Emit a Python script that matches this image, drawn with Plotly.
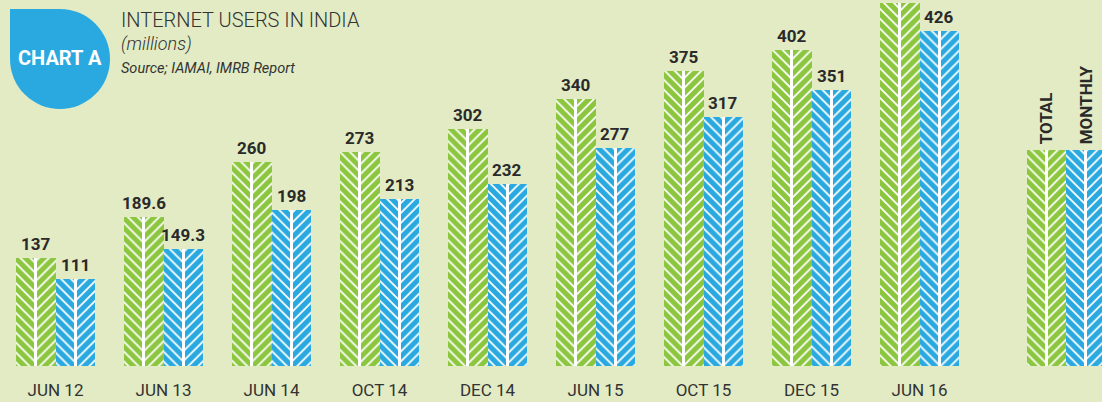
import plotly.graph_objects as go

# ---- data ----
categories = ["JUN 12", "JUN 13", "JUN 14", "OCT 14", "DEC 14", "JUN 15", "OCT 15", "DEC 15", "JUN 16"]
total_users = [137, 189.6, 260, 273, 302, 340, 375, 402, 462]
monthly_users = [111, 149.3, 198, 213, 232, 277, 317, 351, 426]
total_labels = ["137", "189.6", "260", "273", "302", "340", "375", "402", "462"]
monthly_labels = ["111", "149.3", "198", "213", "232", "277", "317", "351", "426"]
legend_names = ["TOTAL", "MONTHLY"]
legend_value = [275]

# ---- style ----
W, H = 1102, 402
BOTTOM = 36
PLOT_H = H - BOTTOM
GREEN = "#8cc63f"
BLUE = "#29a9e0"
BG = "#e2ebc4"
DARK = "#2a2a2a"
UNIT = 108.0           # px per category
X0_PX = 55.5           # px of category 0 center (boundary green/blue)
HALF = 19.75 / UNIT    # half-bar width in data units
LINE_W = 2.6 / UNIT
Y_MAX = 466

x_range = [-X0_PX / UNIT, (W - X0_PX) / UNIT]
legend_x = [(1066 - X0_PX) / UNIT]


def px(x):
    return x / W


def py(y):
    return (PLOT_H - y) / PLOT_H


fig = go.Figure()


def add_bar(x, y, color, start):
    # left half (\), right half (/), white spine
    for k, shape in enumerate(["\\", "/"]):
        fig.add_trace(go.Bar(
            x=x, y=y, offset=start + k * HALF, width=HALF,
            marker=dict(color=color, line=dict(width=0),
                        pattern=dict(shape=shape, fgcolor="white", bgcolor=color,
                                     size=7, solidity=0.25, fillmode="replace")),
            hoverinfo="skip", showlegend=False))
    fig.add_trace(go.Bar(
        x=x, y=y, offset=start + HALF - LINE_W / 2, width=LINE_W,
        marker=dict(color="white", line=dict(width=0)),
        hoverinfo="skip", showlegend=False))


idx = list(range(len(categories)))
add_bar(idx, total_users, GREEN, -2 * HALF)
add_bar(idx, monthly_users, BLUE, 0)
add_bar(legend_x, legend_value, GREEN, -2 * HALF)
add_bar(legend_x, legend_value, BLUE, 0)

annotations = []
for i in idx:
    annotations.append(dict(x=i - HALF, y=total_users[i], xref="x", yref="y",
                            text=total_labels[i], showarrow=False, yanchor="bottom",
                            yshift=2, font=dict(family="Roboto", size=17, color=DARK, weight="bold")))
    annotations.append(dict(x=i + HALF, y=monthly_users[i], xref="x", yref="y",
                            text=monthly_labels[i], showarrow=False, yanchor="bottom",
                            yshift=2, font=dict(family="Roboto", size=17, color=DARK, weight="bold")))

# legend labels
for k, name in enumerate(legend_names):
    annotations.append(dict(x=legend_x[0] + (2 * k - 1) * HALF, y=legend_value[0], xref="x", yref="y",
                            text=name, showarrow=False, textangle=-90, yanchor="bottom",
                            xanchor="center", yshift=4,
                            font=dict(family="Roboto", size=17, color=DARK, weight="bold")))

# title block
annotations += [
    dict(x=px(119), y=py(6), xref="paper", yref="paper", xanchor="left", yanchor="top",
         text="INTERNET USERS IN INDIA", showarrow=False,
         font=dict(family="Roboto", size=20, color="#333333", weight=300)),
    dict(x=px(119), y=py(31), xref="paper", yref="paper", xanchor="left", yanchor="top",
         text="<i>(millions)</i>", showarrow=False,
         font=dict(family="Roboto", size=18, color="#333333", weight=300)),
    dict(x=px(119), y=py(58), xref="paper", yref="paper", xanchor="left", yanchor="top",
         text="<i>Source; IAMAI, IMRB Report</i>", showarrow=False,
         font=dict(family="Roboto", size=14.5, color="#333333")),
    dict(x=px(60), y=py(58), xref="paper", yref="paper", xanchor="center", yanchor="middle",
         text="CHART A", showarrow=False,
         font=dict(family="Roboto", size=20, color="white", weight="bold")),
]

shapes = [
    dict(type="circle", xref="paper", yref="paper", x0=px(10), x1=px(110), y0=py(109), y1=py(9),
         fillcolor=BLUE, line=dict(width=0), layer="above"),
    dict(type="rect", xref="paper", yref="paper", x0=px(10), x1=px(60), y0=py(59), y1=py(9),
         fillcolor=BLUE, line=dict(width=0), layer="above"),
]

fig.update_layout(
    width=W, height=H,
    margin=dict(l=0, r=0, t=0, b=BOTTOM),
    paper_bgcolor=BG, plot_bgcolor=BG,
    barmode="overlay", bargap=0,
    xaxis=dict(range=x_range, tickmode="array", tickvals=idx, ticktext=categories,
               showgrid=False, zeroline=False, showline=False, ticks="",
               ticklabelstandoff=12,
               tickfont=dict(family="Roboto", size=17, color="#333333"), fixedrange=True),
    yaxis=dict(range=[0, Y_MAX], visible=False, showgrid=False, zeroline=False, fixedrange=True),
    annotations=annotations,
    shapes=shapes,
    showlegend=False,
)

fig.write_html(
    "out.html",
    config={"displayModeBar": False},
    post_script="document.body.style.margin='0';document.body.style.overflow='hidden';",
)
